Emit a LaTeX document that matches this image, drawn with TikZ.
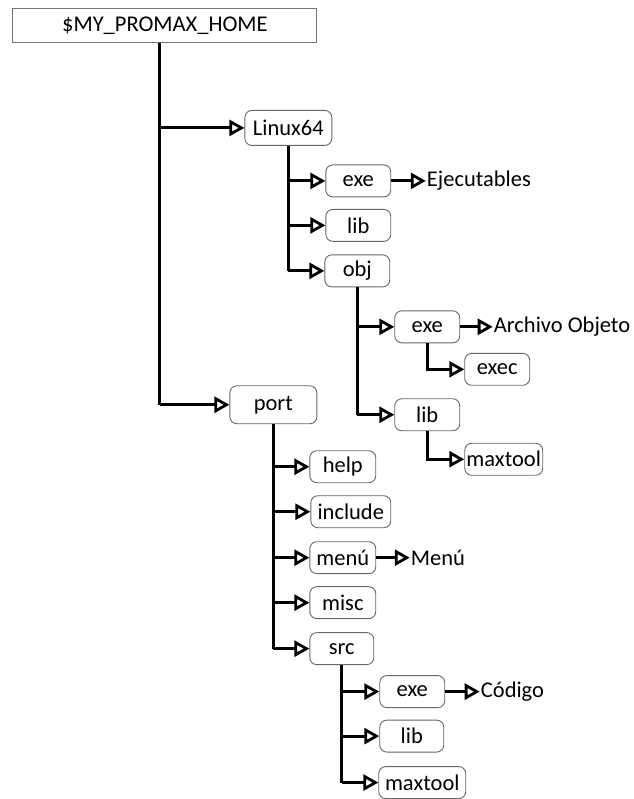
\documentclass[tikz,border=0pt]{standalone}
\usepackage{fontspec}
\setmainfont{Carlito}
\usetikzlibrary{arrows.meta}

\begin{document}
\begin{tikzpicture}[
  x=1pt, y=-1pt,
  font=\fontsize{22.5}{26}\selectfont,
  % Box styles
  rootbox/.style={rectangle, draw=gray!90!black, line width=1pt,
    minimum width=304pt, minimum height=34pt, inner sep=1pt},
  folder/.style={rectangle, rounded corners=7pt, draw=gray!80!black,
    line width=0.9pt, minimum width=65pt, minimum height=32pt, inner sep=1pt},
  % Plain text label
  desc/.style={anchor=west, inner sep=1pt},
  % Line styles
  stem/.style={line width=3pt},
  link/.style={line width=3pt, -{Triangle[open, length=15pt, width=16pt, line width=2.8pt]}},
]

% Root
\node[rootbox] (root) at (165, 26) {\$MY\_PROMAX\_HOME};

% --- Linux64 branch ---
\node[folder, minimum width=87pt, minimum height=35pt] (linux) at (288.5, 128) {Linux64};
\node[folder] (lexe) at (358.5, 181) {exe};
\node[folder] (llib) at (358.5, 225.5) {lib};
\node[folder] (lobj) at (357.5, 271) {obj};
\node[desc] (ejec) at (426, 181) {Ejecutables};

% obj subfolders
\node[folder] (oexe) at (427.5, 327) {exe};
\node[folder] (oexec) at (497.5, 369.5) {exec};
\node[folder] (olib) at (427.5, 415) {lib};
\node[folder, minimum width=78pt] (omax) at (504, 459.5) {maxtool};
\node[desc] (arch) at (493, 327) {Archivo Objeto};

% --- port branch ---
\node[folder, minimum width=87pt, minimum height=38pt] (port) at (273.5, 405) {port};
\node[folder, minimum width=66pt] (phelp) at (343, 467) {help};
\node[folder, minimum width=80pt] (pinc) at (351, 512) {include};
\node[folder, minimum width=66pt] (pmenu) at (343, 558) {menú};
\node[folder, minimum width=66pt] (pmisc) at (343, 603) {misc};
\node[folder, minimum width=64pt] (psrc) at (342, 649) {src};
\node[desc] (menu) at (410, 558) {Menú};

% src subfolders
\node[folder] (sexe) at (412.5, 692) {exe};
\node[folder, minimum width=64pt] (slib) at (412, 736.5) {lib};
\node[folder, minimum width=87pt] (smax) at (422.5, 783) {maxtool};
\node[desc] (cod) at (480, 692) {Código};

% Connectors
\coordinate (trunk) at ([xshift=-5pt]root.south);
\draw[stem] (trunk) -- (trunk |- port.west);
\draw[link] (trunk |- linux.west) -- (linux.west);
\draw[link] (trunk |- port.west) -- (port.west);

\draw[stem] (linux.south) -- (linux.south |- lobj.west);
\draw[link] (linux.south |- lexe.west) -- (lexe.west);
\draw[link] (linux.south |- llib.west) -- (llib.west);
\draw[link] (linux.south |- lobj.west) -- (lobj.west);
\draw[link] (lexe.east) -- (ejec.west);

\draw[stem] (lobj.south) -- (lobj.south |- olib.west);
\draw[link] (lobj.south |- oexe.west) -- (oexe.west);
\draw[link] (lobj.south |- olib.west) -- (olib.west);
\draw[link] (oexe.south) |- (oexec.west);
\draw[link] (olib.south) |- (omax.west);
\draw[link] (oexe.east) -- (arch.west);

\draw[stem] (port.south) -- (port.south |- psrc.west);
\draw[link] (port.south |- phelp.west) -- (phelp.west);
\draw[link] (port.south |- pinc.west) -- (pinc.west);
\draw[link] (port.south |- pmenu.west) -- (pmenu.west);
\draw[link] (port.south |- pmisc.west) -- (pmisc.west);
\draw[link] (port.south |- psrc.west) -- (psrc.west);
\draw[link] (pmenu.east) -- (menu.west);

\draw[stem] (psrc.south) -- (psrc.south |- smax.west);
\draw[link] (psrc.south |- sexe.west) -- (sexe.west);
\draw[link] (psrc.south |- slib.west) -- (slib.west);
\draw[link] (psrc.south |- smax.west) -- (smax.west);
\draw[link] (sexe.east) -- (cod.west);

\useasboundingbox (0,0) rectangle (634,799);
\end{tikzpicture}
\end{document}
